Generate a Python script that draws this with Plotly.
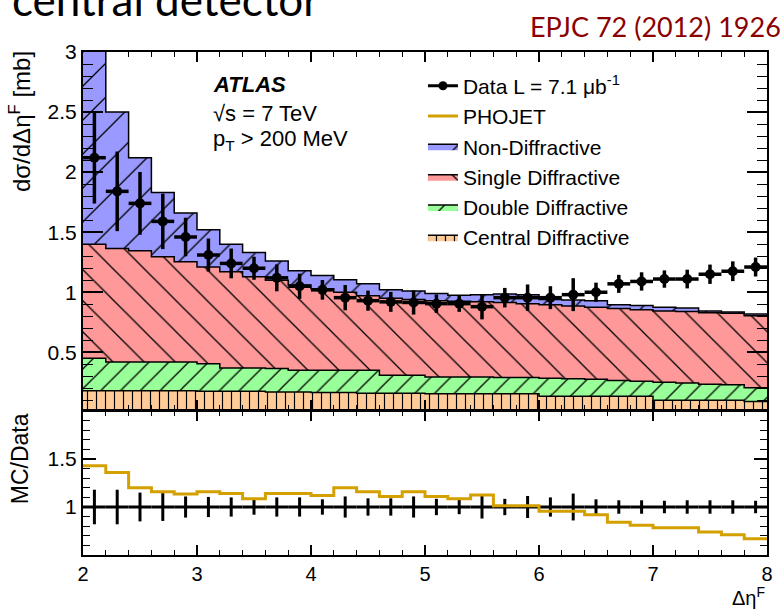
import plotly.graph_objects as go

# ---------------- data ----------------
bin_edges = [round(2.0 + 0.2 * i, 1) for i in range(31)]
bin_centers = [round(2.1 + 0.2 * i, 1) for i in range(30)]

data_vals = [2.12, 1.84, 1.74, 1.59, 1.46, 1.31, 1.24, 1.20, 1.12, 1.05,
             1.02, 0.955, 0.93, 0.92, 0.915, 0.905, 0.905, 0.88, 0.955, 0.955,
             0.955, 0.98, 1.00, 1.07, 1.09, 1.11, 1.11, 1.15, 1.175, 1.21]
data_rel_err = [0.18, 0.18, 0.15, 0.145, 0.11, 0.105, 0.10, 0.08, 0.10, 0.10,
                0.08, 0.11, 0.09, 0.09, 0.11, 0.085, 0.075, 0.12, 0.085, 0.115,
                0.10, 0.14, 0.08, 0.07, 0.07, 0.065, 0.07, 0.07, 0.07, 0.065]

cd_vals = [0.18, 0.18, 0.18, 0.18, 0.18, 0.175, 0.175, 0.175, 0.17, 0.17,
           0.165, 0.165, 0.16, 0.16, 0.16, 0.155, 0.155, 0.155, 0.155, 0.155,
           0.135, 0.135, 0.135, 0.135, 0.135, 0.10, 0.10, 0.10, 0.10, 0.09]
dd_vals = [0.27, 0.24, 0.24, 0.24, 0.24, 0.23, 0.195, 0.195, 0.195, 0.18,
           0.185, 0.185, 0.19, 0.15, 0.15, 0.14, 0.14, 0.14, 0.135, 0.135,
           0.15, 0.145, 0.14, 0.13, 0.125, 0.15, 0.145, 0.135, 0.13, 0.115]
sd_vals = [0.95, 0.945, 0.925, 0.875, 0.835, 0.805, 0.80, 0.76, 0.735, 0.71,
           0.68, 0.65, 0.62, 0.64, 0.63, 0.635, 0.63, 0.625, 0.625, 0.615,
           0.61, 0.605, 0.60, 0.60, 0.595, 0.595, 0.595, 0.595, 0.595, 0.60]
nd_vals = [1.65, 1.135, 0.775, 0.535, 0.405, 0.31, 0.23, 0.20, 0.16, 0.12,
           0.11, 0.105, 0.10, 0.07, 0.07, 0.06, 0.05, 0.06, 0.07, 0.075,
           0.045, 0.05, 0.055, 0.03, 0.035, 0.03, 0.03, 0.015, 0.01, 0.015]

phojet_ratio = [1.43, 1.36, 1.20, 1.16, 1.135, 1.16, 1.14, 1.085, 1.14, 1.14,
                1.12, 1.20, 1.16, 1.11, 1.16, 1.11, 1.085, 1.125, 1.013, 1.013,
                0.955, 0.955, 0.92, 0.84, 0.81, 0.785, 0.785, 0.74, 0.71, 0.67]

FONT = "Liberation Sans, Arial, sans-serif"
TICKC = "black"


def step(vals):
    return list(vals) + [vals[-1]]


fig = go.Figure()

# stacked MC components (bottom to top)
components = [
    ("Central Diffractive", cd_vals, "#ffcc99", "|", 9, 0.13, 6),
    ("Double Diffractive", dd_vals, "#99ff99", "/", 14, 0.09, 5),
    ("Single Diffractive", sd_vals, "#ff9999", "\\", 22, 0.06, 4),
    ("Non-Diffractive", nd_vals, "#9999ff", "/", 24, 0.055, 3),
]
for name, vals, col, shp, sz, sol, rank in components:
    fig.add_trace(go.Scatter(
        x=bin_edges, y=step(vals), name=name, mode="lines",
        stackgroup="mc", line=dict(color="black", width=1.5, shape="hv"),
        fillcolor=col,
        fillpattern=dict(shape=shp, bgcolor=col, fgcolor="black",
                         size=sz, solidity=sol, fillmode="replace"),
        legendgroup=name, legendrank=rank,
        xaxis="x", yaxis="y"))

# data points, main panel
fig.add_trace(go.Scatter(
    x=bin_centers, y=data_vals, mode="markers", showlegend=False,
    marker=dict(color="black", size=10),
    error_y=dict(type="data", array=[v * e for v, e in zip(data_vals, data_rel_err)],
                 color="black", thickness=3.5, width=0),
    error_x=dict(type="constant", value=0.1, color="black", thickness=3.5, width=0),
    xaxis="x", yaxis="y"))

# legend entry for data
fig.add_trace(go.Scatter(
    x=[None], y=[None], mode="lines+markers", name="Data L = 7.1 \u03bcb<sup>-1</sup>",
    line=dict(color="black", width=3), marker=dict(color="black", size=9),
    legendgroup="data", legendrank=1, xaxis="x", yaxis="y"))

# ratio panel: data at 1
fig.add_trace(go.Scatter(
    x=bin_centers, y=[1.0] * len(bin_centers), mode="markers", showlegend=False,
    marker=dict(color="black", size=2),
    error_y=dict(type="data", array=data_rel_err, color="black", thickness=3, width=0),
    error_x=dict(type="constant", value=0.1, color="black", thickness=3, width=0),
    xaxis="x2", yaxis="y2"))

# PHOJET ratio
fig.add_trace(go.Scatter(
    x=bin_edges, y=step(phojet_ratio), mode="lines", name="PHOJET",
    line=dict(color="#d4a000", width=3, shape="hv"),
    legendgroup="phojet", legendrank=2, xaxis="x2", yaxis="y2"))

ax_common = dict(showline=True, linecolor="black", linewidth=2, mirror="allticks",
                 ticks="inside", tickcolor=TICKC, showgrid=False, zeroline=False)

fig.update_layout(
    width=784, height=612,
    margin=dict(l=83, r=17, t=52, b=57),
    paper_bgcolor="white", plot_bgcolor="white",
    font=dict(family=FONT, color="black"),
    xaxis=dict(domain=[0, 1], range=[2, 8], anchor="y", showticklabels=False,
               tickmode="linear", tick0=2, dtick=1, ticklen=10, tickwidth=1.5,
               minor=dict(ticks="inside", tick0=2, dtick=0.2, ticklen=5, tickwidth=1.2,
                          tickcolor=TICKC),
               **ax_common),
    yaxis=dict(domain=[0.2883, 1], range=[0.02, 3.0], anchor="x",
               tickvals=[0.5, 1, 1.5, 2, 2.5, 3], ticktext=["0.5", "1", "1.5", "2", "2.5", "3"],
               ticklen=20, tickwidth=1.5,
               tickfont=dict(family=FONT, size=21, color="black"),
               minor=dict(ticks="inside", dtick=0.1, ticklen=10, tickwidth=1.2, tickcolor=TICKC),
               **ax_common),
    xaxis2=dict(domain=[0, 1], range=[2, 8], anchor="y2",
                tickvals=[2, 3, 4, 5, 6, 7, 8], ticklen=10, tickwidth=1.5,
                tickfont=dict(family=FONT, size=20, color="black"),
                minor=dict(ticks="inside", tick0=2, dtick=0.2, ticklen=5, tickwidth=1.2,
                           tickcolor=TICKC),
                **ax_common),
    yaxis2=dict(domain=[0, 0.2863], range=[0.5, 2.0], anchor="x2",
                tickvals=[1, 1.5], ticktext=["1", "1.5"], ticklen=13, tickwidth=1.5,
                tickfont=dict(family=FONT, size=21, color="black"),
                minor=dict(ticks="inside", dtick=0.1, ticklen=7, tickwidth=1.2, tickcolor=TICKC),
                **ax_common),
    legend=dict(x=0.497, y=0.973, xanchor="left", yanchor="top",
                bgcolor="rgba(0,0,0,0)", traceorder="grouped", tracegroupgap=0,
                font=dict(family=FONT, size=21, color="black")),
    showlegend=True,
)

annotations = [
    dict(text="central detector", xref="paper", yref="paper", x=-0.107, y=1.05,
         xanchor="left", yanchor="bottom", showarrow=False,
         font=dict(family="Lato, sans-serif", size=44, color="black")),
    dict(text="EPJC 72 (2012) 1926", xref="paper", yref="paper", x=1.0235, y=1.014,
         xanchor="right", yanchor="bottom", showarrow=False,
         font=dict(family="Lato, sans-serif", size=27, color="#8b0000")),
    dict(text="<b><i>ATLAS</i></b>", xref="paper", yref="paper", x=0.187, y=0.935,
         xanchor="left", yanchor="middle", showarrow=False,
         font=dict(family=FONT, size=22, color="black")),
    dict(text="\u221as = 7 TeV", xref="paper", yref="paper", x=0.187, y=0.878,
         xanchor="left", yanchor="middle", showarrow=False,
         font=dict(family=FONT, size=22, color="black")),
    dict(text="p<sub>T</sub> > 200 MeV", xref="paper", yref="paper", x=0.187, y=0.826,
         xanchor="left", yanchor="middle", showarrow=False,
         font=dict(family=FONT, size=22, color="black")),
    dict(text="d\u03c3/d\u0394\u03b7<sup>F</sup> [mb]", xref="paper", yref="paper",
         x=-0.092, y=1.005, xanchor="center", yanchor="top", textangle=-90, showarrow=False,
         font=dict(family=FONT, size=24, color="black")),
    dict(text="MC/Data", xref="paper", yref="paper",
         x=-0.092, y=0.285, xanchor="center", yanchor="top", textangle=-90, showarrow=False,
         font=dict(family=FONT, size=23, color="black")),
    dict(text="\u0394\u03b7<sup>F</sup>", xref="paper", yref="paper",
         x=1.0, y=-0.112, xanchor="right", yanchor="bottom", showarrow=False,
         font=dict(family=FONT, size=20, color="black")),
]
fig.update_layout(annotations=annotations)

fig.write_html("out.html")
